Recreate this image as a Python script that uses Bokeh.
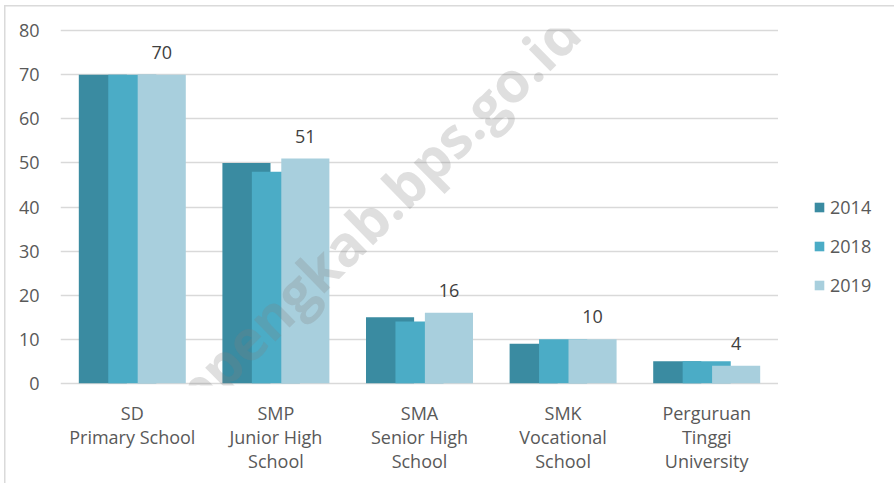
from bokeh.plotting import figure
from bokeh.layouts import row
from bokeh.models import (ColumnDataSource, FactorRange, Range1d, Legend, LegendItem,
                          LabelSet, Label, FixedTicker)
from bokeh.core.properties import value
from bokeh.transform import dodge
from bokeh.embed import file_html
from bokeh.resources import INLINE

categories = ["SD\nPrimary School", "SMP\nJunior High\nSchool", "SMA\nSenior High\nSchool",
              "SMK\nVocational\nSchool", "Perguruan\nTinggi\nUniversity"]
years = ["2014", "2018", "2019"]
v2014 = [70, 50, 15, 9, 5]
v2018 = [70, 48, 14, 10, 5]
v2019 = [70, 51, 16, 10, 4]
y_ticks = [0, 10, 20, 30, 40, 50, 60, 70, 80]
colors = ["#3A8BA1", "#4BACC6", "#A8CFDD"]

FONT = "Open Sans"
src = ColumnDataSource(dict(cat=categories, v2014=v2014, v2018=v2018, v2019=v2019,
                            lbl=[str(v) for v in v2019]))

p = figure(width=778, height=483, x_range=FactorRange(*categories),
           y_range=Range1d(-0.5, 80.5), output_backend="svg", toolbar_location=None,
           min_border_left=60, min_border_right=0, min_border_top=28, min_border_bottom=98)
p.outline_line_color = None
p.background_fill_color = "white"
p.border_fill_color = None

offsets = [-0.205, 0.0, 0.205]
renderers = []
for yr, off, col in zip(years, offsets, colors):
    r = p.vbar(x=dodge("cat", off, range=p.x_range), top="v" + yr, width=0.335,
               source=src, fill_color=col, line_color=None)
    renderers.append(r)

labels = LabelSet(x=dodge("cat", 0.205, range=p.x_range), y="v2019", text="lbl", source=src,
                  y_offset=16, text_align="center", text_baseline="alphabetic",
                  text_font=value(FONT), text_font_size=value("18px"), text_color="#404040")
p.add_layout(labels)

# axes
p.yaxis.ticker = FixedTicker(ticks=y_ticks)
p.yaxis.axis_line_color = None
p.yaxis.major_tick_line_color = None
p.yaxis.minor_tick_line_color = None
p.yaxis.major_label_standoff = 15
p.yaxis.major_label_text_font = FONT
p.yaxis.major_label_text_font_size = "18px"
p.yaxis.major_label_text_color = "#595959"

p.xaxis.axis_line_color = None
p.xaxis.major_tick_line_color = None
p.xaxis.minor_tick_line_color = None
p.xaxis.major_label_standoff = 9
p.xaxis.major_label_text_font = FONT
p.xaxis.major_label_text_font_size = "18px"
p.xaxis.major_label_text_color = "#595959"
p.xaxis.major_label_text_line_height = 1.0

p.xgrid.grid_line_color = None
p.ygrid.grid_line_color = "#D9D9D9"
p.ygrid.grid_line_width = 1.6

wm = Label(x=218, y=78, x_units="screen", y_units="screen", text="https://soppengkab.bps.go.id",
           angle=0.777, text_align="center", text_baseline="middle", text_font=FONT,
           text_font_style="bold", text_font_size="56px", text_color="#808080", text_alpha=0.25)
p.add_layout(wm)

# legend panel (separate small figure on the right); its bars fall outside its view
pl = figure(width=116, height=483, x_range=Range1d(0, 1), y_range=Range1d(0, 1),
            output_backend="svg", toolbar_location=None,
            min_border_left=0, min_border_right=0, min_border_top=0, min_border_bottom=0)
pl.axis.visible = False
pl.grid.visible = False
pl.outline_line_color = None
pl.background_fill_color = None
pl.border_fill_color = None
leg_renderers = []
for yr, col in zip(years, colors):
    leg_renderers.append(pl.vbar(x="v" + yr, top="v" + yr, width=0.5, source=src,
                                 fill_color=col, line_color=None))
legend = Legend(items=[LegendItem(label=yr, renderers=[r]) for yr, r in zip(years, leg_renderers)],
                location=(35, 88), orientation="vertical", padding=0, margin=0,
                spacing=15, glyph_width=12, glyph_height=12, label_height=23,
                label_standoff=5, label_text_font=FONT, label_text_font_size="18px",
                label_text_color="#595959", border_line_alpha=0, background_fill_alpha=0)
pl.add_layout(legend, "center")

layout = row(p, pl, spacing=0)
# thin light-grey chart border visible along the top and left edges
layout.styles = {"box-shadow": "inset 4px 5px 0 0 #ffffff, inset 5.5px 6.5px 0 0 #DADADA",
                 "background-color": "#ffffff"}
open("out.html", "w").write(file_html(layout, INLINE))
